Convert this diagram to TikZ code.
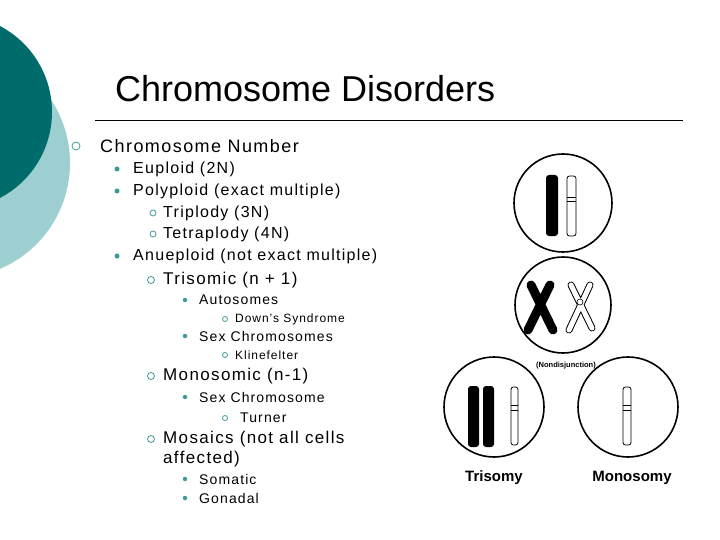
\documentclass[tikz,border=0pt]{standalone}
\usepackage{fontspec}
\setmainfont{Liberation Sans}
\newfontfamily\bodyf[LetterSpace=8]{Liberation Sans}
\definecolor{dteal}{HTML}{006B6B}
\definecolor{lteal}{HTML}{9ECFD0}
\definecolor{bul}{HTML}{3E9A9A}
\begin{document}
\begin{tikzpicture}[x=1pt,y=-1pt,
  t/.style={anchor=west,inner sep=0pt,text=black},
  hb/.style={circle,draw=bul,line width=0.8pt,inner sep=0pt},
  fb/.style={circle,fill=bul,inner sep=0pt},
  wc/.style={draw=black,fill=white,line width=0.8pt,rounded corners=2.5pt},
  bc/.style={fill=black,rounded corners=3pt},
  ring/.style={draw=black,line width=1.6pt}]
\useasboundingbox (0,0) rectangle (720,540);
\fill[lteal] (-45,163) circle (115);
\fill[dteal] (-45,112) circle (97);
\node[t,font=\fontsize{36}{40}\selectfont] (title) at (115,89) {Chromosome Disorders};
\draw[line width=0.8pt] (95,120) -- (683,120);
\node[hb,minimum size=8pt] at (76,146) {};
\node[t,font=\bodyf\fontsize{18}{22}\selectfont] at (100,146) {Chromosome Number};
\foreach \y/\s in {169/Euploid (2N),191/Polyploid (exact multiple),256/Anueploid (not exact multiple)}{
 \node[fb,minimum size=5pt] at (117,\y) {};
 \node[t,font=\bodyf\fontsize{16}{19}\selectfont] at (133,\y) {\s};}
\foreach \y/\s in {213/Triplody (3N),234/Tetraplody (4N)}{
 \node[hb,minimum size=6pt] at (153,\y) {};
 \node[t,font=\bodyf\fontsize{16}{19}\selectfont] at (163,\y) {\s};}
\foreach \y/\s in {280/Trisomic (n + 1),376/Monosomic (n-1),439/Mosaics (not all cells}{
 \node[hb,minimum size=7pt] at (151,\y) {};
 \node[t,font=\bodyf\fontsize{17}{20}\selectfont] at (163,\y) {\s};}
\node[t,font=\bodyf\fontsize{17}{20}\selectfont] at (163,459) {affected)};
\foreach \y/\s in {300/Autosomes,336/Sex Chromosomes,397/Sex Chromosome,479/Somatic,498/Gonadal}{
 \node[fb,minimum size=4.5pt] at (185,\y) {};
 \node[t,font=\bodyf\fontsize{14}{17}\selectfont] at (199,\y) {\s};}
\foreach \y/\s in {319/Down’s Syndrome,355/Klinefelter}{
 \node[hb,minimum size=5pt] at (225,\y) {};
 \node[t,font=\bodyf\fontsize{12}{14}\selectfont] at (235,\y) {\s};}
\node[hb,minimum size=5pt] at (225,418) {};
\node[t,font=\bodyf\fontsize{14}{17}\selectfont] at (240,418) {Turner};
% circles
\draw[ring] (563,203) circle (49);
\draw[ring] (563,305) circle (48);
\draw[ring] (494,407) circle (50);
\draw[ring] (628,407) circle (50);
% top circle chromosomes
\fill[bc] (546,175) rectangle (558,236);
\draw[wc] (567,176) rectangle (576,236);
\draw[line width=0.8pt] (567,197)--(576,197) (567,201)--(576,201);
% middle X's
\draw[line width=9pt,line cap=round] (531,285)--(553,330) (550,285)--(528,330);
\draw[line width=7pt,line cap=round] (571,285)--(592,328) (590,285)--(569,330);
\draw[line width=5pt,line cap=round,white] (571,285)--(592,328) (590,285)--(569,330);
\fill[white,draw=black,line width=0.6pt] (580,302) circle (3);
% trisomy
\fill[bc] (468,386) rectangle (479,447);
\fill[bc] (483,386) rectangle (494,447);
\draw[wc] (511,387) rectangle (518,445);
\draw[line width=0.8pt] (511,405)--(518,405) (511,410)--(518,410);
% monosomy
\draw[wc] (623,387) rectangle (631,445);
\draw[line width=0.8pt] (623,405)--(631,405) (623,410)--(631,410);
\node[font=\bfseries\fontsize{7.5}{9}\selectfont] (nd) at (566,366) {(Nondisjunction)};
\node[font=\bfseries\fontsize{15}{17}\selectfont] (tri) at (494,478) {Trisomy};
\node[font=\bfseries\fontsize{15}{17}\selectfont] (mono) at (632,478) {Monosomy};
\end{tikzpicture}
\end{document}
